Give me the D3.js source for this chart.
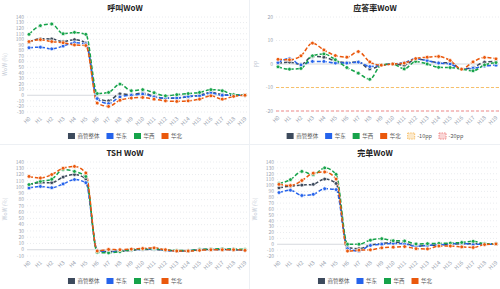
<!DOCTYPE html>
<html>
<head>
<meta charset="utf-8">
<script src="https://cdn.jsdelivr.net/npm/d3@7"></script>
<style>
  html, body { margin: 0; padding: 0; background: #fff; }
  svg { display: block; font-family: "Noto Sans CJK SC", "Noto Sans", sans-serif; }
</style>
</head>
<body>
<svg id="chart" width="500" height="289"></svg>
<script>
// Data
const hours = d3.range(20).map(i => "H" + i);
const seriesNames = ["商管整体", "华东", "华西", "华北"];
const seriesColors = ["#3d4a5c", "#2563eb", "#16a34a", "#ea580c"];

// 呼叫WoW
const callAll   = [95, 101, 100.6, 96, 99.5, 93.5, -5, -10, 2.5, 1, 4, -2, -5.6, -5, -3, 0, 5, 1, 0, 0];
const callEast  = [85, 86, 83, 88, 94, 92, -6, -15, -3, 0, 2, -3, -5, -5, -2, -1, 4, 0, 0, 0];
const callWest  = [109, 124.5, 127.5, 110, 112.5, 109, 3, 5, 20, 8, 10, 4.5, -1, 1, 3, 5, 10, 8, 1, 0];
const callNorth = [96, 99.5, 96, 94, 90, 89, -14, -20, -9, -5, -4, -7, -10, -11, -10, -7, -1, -7, -2, 0];

// 应答率WoW
const ansAll   = [0.3, 0.8, -0.2, 3.2, 2.9, 1.3, 0.6, 0.9, -2.1, -0.5, 0, -0.5, 2.1, 1.5, 0.6, 0.5, -2.1, -1.4, 0.8, 1.1];
const ansEast  = [0.6, 2.3, -0.4, 1.1, 1.1, 0.4, 0.4, 0.8, -1.1, -0.5, 0, 0.6, 2.2, 1.4, 0.4, 0, -2.2, -1.8, -0.9, -0.5];
const ansWest  = [-1.2, -2.2, -1.9, 3.5, 4.3, 1.8, -1.5, -3.9, -6.5, -0.4, 0, -2.1, 1.1, 0, -1.4, -1.5, -2.2, -2.9, -0.4, 0.6];
const ansNorth = [2, 1.8, 3.5, 8.9, 6, 3.6, 2.9, 5.3, 0.9, -0.5, 0, 0.4, 2.3, 2.9, 3.2, 1.5, -2.2, 0.9, 2.8, 2.2];

// TSH WoW
const tshAll   = [103.5, 107, 107, 116, 120, 113, -1, -3, -2.5, -1, 0.5, 0.5, -1, -2, -2, 0, 0.5, 0.5, 0, -1];
const tshEast  = [98.5, 101, 99, 105, 112, 107, -1.5, -3.5, -2, 0, 0.5, 1, -1, -2, -1.5, 0, 0.5, 0.5, 0.5, -1];
const tshWest  = [104, 109, 112.5, 128, 125, 117, -4, -5, -3, 0, 1, 1.5, -0.5, -1, -1.5, 0.5, 1, 1.5, 1, 0.5];
const tshNorth = [117, 114.5, 120, 130, 133, 122.5, -2, 0.5, 0, 1, 2, 3, 0, -2, -2, -1, 0, 0, 0, -1];

// 完单WoW
const doneAll   = [96, 99, 100.7, 102, 111, 103.5, -5.5, -7.5, -1.5, 1, 3.5, 2, -3.5, -2, -1.5, 0, 1, 1, 0.5, 1];
const doneEast  = [88, 92, 83, 85, 94.5, 93, -7.5, -11.5, -2, 0, 1.5, 0.5, -3.5, -2, -1, 0.5, 1.5, 0, 0, 1];
const doneWest  = [103.5, 110, 124, 118.5, 130, 119, 0, 0, 7, 9.5, 6, 5.5, 0.5, 1, 1.5, 2, 3, 5, 1, 1];
const doneNorth = [102, 100, 108.5, 121, 123, 111, -11.5, -10, -9.5, -6, -5, -4, -7.5, -8, -3, -3, -4.5, -5.5, -0.5, 0.5];

// Tick values
const ticksCall = d3.range(-30, 141, 10);
const ticksAns = [-20, -10, 0, 10, 20];
const ticksTsh = d3.range(-10, 141, 10);
const ticksDone = d3.range(-20, 141, 10);

// Threshold lines (应答率)
const refNames = ["-10pp", "-20pp"];
const refValues = [-10, -20];
const refColors = ["#f7c06a", "#f08a8a"];

const svg = d3.select("#chart");

// panel separators
svg.append("line").attr("x1", 249.5).attr("x2", 249.5).attr("y1", 0).attr("y2", 289)
  .attr("stroke", "#edf0f4");
svg.append("line").attr("x1", 0).attr("x2", 500).attr("y1", 144.5).attr("y2", 144.5)
  .attr("stroke", "#edf0f4");

function drawPanel(p) {
  const g = svg.append("g");
  const x = d3.scalePoint().domain(hours).range(p.xRange);
  const y = d3.scaleLinear().domain(p.yDomain).range(p.yRange);
  const gridL = p.xRange[0] - 2, gridR = p.xRange[1] + 3;

  // title
  g.append("text")
    .attr("x", p.cx).attr("y", p.top + 11)
    .attr("text-anchor", "middle")
    .attr("font-size", 8).attr("font-weight", "bold").attr("fill", "#222")
    .text(p.title);

  // grid + y tick labels
  p.ticks.forEach(t => {
    g.append("line")
      .attr("x1", gridL).attr("x2", gridR)
      .attr("y1", y(t)).attr("y2", y(t))
      .attr("stroke", t === 0 ? "#d6d9de" : "#e4e7eb")
      .attr("stroke-width", t === 0 ? 1.2 : 0.8)
      .attr("stroke-dasharray", t === 0 ? null : "1,2");
    g.append("text")
      .attr("x", gridL - 3).attr("y", y(t))
      .attr("dy", "0.35em").attr("text-anchor", "end")
      .attr("font-size", 5).attr("fill", "#9aa3b0")
      .text(t);
  });

  // y axis title
  g.append("text")
    .attr("transform", `translate(${p.left + 7},${(p.yRange[0] + p.yRange[1]) / 2}) rotate(-90)`)
    .attr("text-anchor", "middle")
    .attr("font-size", 5.5).attr("fill", "#c3cad5")
    .text(p.yTitle);

  // x labels
  hours.forEach(h => {
    g.append("text")
      .attr("transform", `translate(${x(h) + 2},${p.yRange[0] + 7}) rotate(-45)`)
      .attr("text-anchor", "end")
      .attr("font-size", 5.5).attr("fill", "#9aa3b0")
      .text(h);
  });

  // reference lines
  (p.refs || []).forEach(r => {
    g.append("line")
      .attr("x1", gridL).attr("x2", gridR)
      .attr("y1", y(r.value)).attr("y2", y(r.value))
      .attr("stroke", r.color).attr("stroke-width", 1.2)
      .attr("stroke-dasharray", "3,2");
  });

  const line = d3.line()
    .x((d, i) => x(hours[i]))
    .y(d => y(d))
    .curve(d3.curveMonotoneX);

  p.series.forEach((vals, si) => {
    g.append("path")
      .attr("d", line(vals))
      .attr("fill", "none")
      .attr("stroke", seriesColors[si])
      .attr("stroke-width", 1.5)
      .attr("stroke-dasharray", "4,2");
  });
  p.series.forEach((vals, si) => {
    g.selectAll(null).data(vals).enter().append("circle")
      .attr("cx", (d, i) => x(hours[i]))
      .attr("cy", d => y(d))
      .attr("r", 1.9)
      .attr("fill", seriesColors[si])
      .attr("stroke", "#fff")
      .attr("stroke-width", 0.7);
  });

  // legend
  const items = seriesNames.map((n, i) => ({ name: n, color: seriesColors[i], ref: false }))
    .concat((p.refs || []).map(r => ({ name: r.name, color: r.color, ref: true })));
  const leg = g.append("g");
  let cur = 0;
  items.forEach(it => {
    const ig = leg.append("g").attr("transform", `translate(${cur},0)`);
    ig.append("rect")
      .attr("x", 0).attr("y", -3).attr("width", 7).attr("height", 6)
      .attr("fill", it.color)
      .attr("fill-opacity", it.ref ? 0.35 : 1)
      .attr("stroke", it.color)
      .attr("stroke-width", it.ref ? 1 : 0)
      .attr("stroke-dasharray", it.ref ? "1.5,1" : null);
    const t = ig.append("text")
      .attr("x", 9.5).attr("y", 0).attr("dy", "0.35em")
      .attr("font-size", 5.5).attr("fill", "#555")
      .text(it.name);
    cur += 9.5 + t.node().getComputedTextLength() + 7;
  });
  const legW = cur - 7;
  leg.attr("transform", `translate(${p.cx - legW / 2},${p.top + 136})`);
}

drawPanel({
  title: "呼叫WoW", left: 0, top: 0, cx: 125,
  xRange: [29, 245], yDomain: [-30, 140], yRange: [112, 17],
  ticks: ticksCall, yTitle: "WoW (%)",
  series: [callAll, callEast, callWest, callNorth]
});
drawPanel({
  title: "应答率WoW", left: 250, top: 0, cx: 375,
  xRange: [278, 496], yDomain: [-20, 20], yRange: [111, 17],
  ticks: ticksAns, yTitle: "pp",
  refs: refNames.map((n, i) => ({ name: n, value: refValues[i], color: refColors[i] })),
  series: [ansAll, ansEast, ansWest, ansNorth]
});
drawPanel({
  title: "TSH WoW", left: 0, top: 145, cx: 125,
  xRange: [29, 245], yDomain: [-10, 140], yRange: [256, 162],
  ticks: ticksTsh, yTitle: "WoW (%)",
  series: [tshAll, tshEast, tshWest, tshNorth]
});
drawPanel({
  title: "完单WoW", left: 250, top: 145, cx: 375,
  xRange: [279, 496], yDomain: [-20, 140], yRange: [256, 162],
  ticks: ticksDone, yTitle: "WoW (%)",
  series: [doneAll, doneEast, doneWest, doneNorth]
});
</script>
</body>
</html>
